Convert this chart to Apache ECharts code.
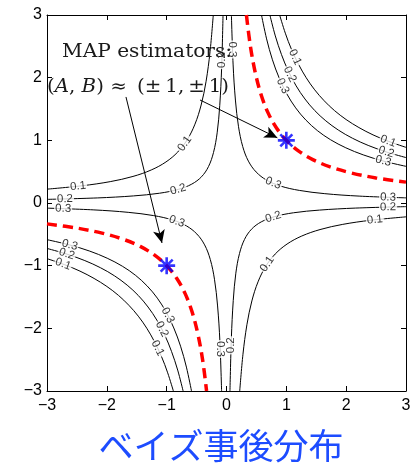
<!DOCTYPE html>
<html>
<head>
<meta charset="utf-8">
<script src="https://cdn.jsdelivr.net/npm/echarts@6/dist/echarts.min.js"></script>
<style>
  html, body { margin: 0; padding: 0; background: #fff; }
  #chart { width: 419px; height: 466px; }
</style>
</head>
<body>
<div id="chart"></div>
<script>
// Axis ticks (A horizontal, B vertical)
const tickValues = [-3, -2, -1, 0, 1, 2, 3];

// Contour branches of the Bayes posterior p(A,B|V), as [A, B] points.
// Level 0.3
const lvl03InnerQ1 = [[0.082,3.0],[0.110,2.217],[0.149,1.643],[0.201,1.217],[0.271,0.901],[0.366,0.668],[0.495,0.495],[0.668,0.366],[0.901,0.271],[1.217,0.201],[1.643,0.149],[2.217,0.110],[3.0,0.082]];
const lvl03InnerQ3 = [[-3.0,-0.082],[-2.217,-0.110],[-1.643,-0.149],[-1.217,-0.201],[-0.901,-0.271],[-0.668,-0.366],[-0.495,-0.495],[-0.366,-0.668],[-0.271,-0.901],[-0.201,-1.217],[-0.149,-1.643],[-0.110,-2.217],[-0.082,-3.0]];
const lvl03OuterQ1 = [[0.585,3.0],[0.670,2.619],[0.768,2.285],[0.881,1.994],[1.009,1.740],[1.156,1.518],[1.325,1.325],[1.518,1.156],[1.740,1.009],[1.994,0.881],[2.285,0.768],[2.619,0.670],[3.0,0.585]];
const lvl03OuterQ3 = [[-3.0,-0.585],[-2.619,-0.670],[-2.285,-0.768],[-1.994,-0.881],[-1.740,-1.009],[-1.518,-1.156],[-1.325,-1.325],[-1.156,-1.518],[-1.009,-1.740],[-0.881,-1.994],[-0.768,-2.285],[-0.670,-2.619],[-0.585,-3.0]];
// Level 0.2
const lvl02OuterQ1 = [[0.725,3.0],[0.816,2.666],[0.919,2.368],[1.034,2.104],[1.164,1.869],[1.311,1.660],[1.475,1.475],[1.660,1.311],[1.869,1.164],[2.104,1.034],[2.368,0.919],[2.666,0.816],[3.0,0.725]];
const lvl02OuterQ3 = [[-3.0,-0.725],[-2.666,-0.816],[-2.368,-0.919],[-2.104,-1.034],[-1.869,-1.164],[-1.660,-1.311],[-1.475,-1.475],[-1.311,-1.660],[-1.164,-1.869],[-1.034,-2.104],[-0.919,-2.368],[-0.816,-2.666],[-0.725,-3.0]];
const lvl02InnerQ2 = [[-3.0,0.058],[-2.160,0.081],[-1.555,0.113],[-1.120,0.156],[-0.807,0.217],[-0.581,0.301],[-0.418,0.418],[-0.301,0.581],[-0.217,0.807],[-0.156,1.120],[-0.113,1.555],[-0.081,2.160],[-0.058,3.0]];
const lvl02InnerQ4 = [[0.058,-3.0],[0.081,-2.160],[0.113,-1.555],[0.156,-1.120],[0.217,-0.807],[0.301,-0.581],[0.418,-0.418],[0.581,-0.301],[0.807,-0.217],[1.120,-0.156],[1.555,-0.113],[2.160,-0.081],[3.0,-0.058]];
// Level 0.1
const lvl01OuterQ1 = [[0.888,3.0],[0.983,2.710],[1.087,2.449],[1.204,2.213],[1.332,1.999],[1.474,1.806],[1.632,1.632],[1.806,1.474],[1.999,1.332],[2.213,1.204],[2.449,1.087],[2.710,0.983],[3.0,0.888]];
const lvl01OuterQ3 = [[-3.0,-0.888],[-2.710,-0.983],[-2.449,-1.087],[-2.213,-1.204],[-1.999,-1.332],[-1.806,-1.474],[-1.632,-1.632],[-1.474,-1.806],[-1.332,-1.999],[-1.204,-2.213],[-1.087,-2.449],[-0.983,-2.710],[-0.888,-3.0]];
const lvl01InnerQ2 = [[-3.0,0.221],[-2.414,0.275],[-1.943,0.341],[-1.563,0.424],[-1.258,0.527],[-1.012,0.655],[-0.814,0.814],[-0.655,1.012],[-0.527,1.258],[-0.424,1.563],[-0.341,1.943],[-0.275,2.414],[-0.221,3.0]];
const lvl01InnerQ4 = [[0.221,-3.0],[0.275,-2.414],[0.341,-1.943],[0.424,-1.563],[0.527,-1.258],[0.655,-1.012],[0.814,-0.814],[1.012,-0.655],[1.258,-0.527],[1.563,-0.424],[1.943,-0.341],[2.414,-0.275],[3.0,-0.221]];

// Ridge of MAP solutions AB = 1
const ridgeQ1 = [[0.333,3.0],[0.400,2.498],[0.481,2.080],[0.577,1.732],[0.693,1.442],[0.833,1.201],[1.0,1.0],[1.201,0.833],[1.442,0.693],[1.732,0.577],[2.080,0.481],[2.498,0.400],[3.0,0.333]];
const ridgeQ3 = [[-3.0,-0.333],[-2.498,-0.400],[-2.080,-0.481],[-1.732,-0.577],[-1.442,-0.693],[-1.201,-0.833],[-1.0,-1.0],[-0.833,-1.201],[-0.693,-1.442],[-0.577,-1.732],[-0.481,-2.080],[-0.400,-2.498],[-0.333,-3.0]];

// MAP estimators
const mapPoints = [[1, 1], [-1, -1]];

// Contour labels: [A, B, level]
const contourLabels = [
  [-0.70, 0.947, '0.1'], [-2.48, 0.267, '0.1'], [-0.81, 0.216, '0.2'], [-2.70, 0.065, '0.2'],
  [-2.73, -0.090, '0.3'], [-0.83, -0.295, '0.3'], [-2.62, -0.670, '0.3'], [-2.67, -0.815, '0.2'],
  [-2.73, -0.975, '0.1'], [-0.98, -1.791, '0.3'], [-1.08, -2.014, '0.2'], [-1.15, -2.316, '0.1'],
  [-0.105, -2.33, '0.3'], [0.077, -2.27, '0.2'], [0.78, -0.224, '0.2'], [2.48, -0.267, '0.1'],
  [0.68, -0.975, '0.1'], [2.70, 0.091, '0.3'], [2.70, -0.065, '0.2'], [0.78, 0.314, '0.3'],
  [2.70, 0.986, '0.1'], [2.67, 0.815, '0.2'], [2.62, 0.670, '0.3'], [1.145, 2.326, '0.1'],
  [1.06, 2.052, '0.2'], [0.94, 1.867, '0.3'], [0.10, 2.45, '0.3'], [-0.077, 2.28, '0.2']
];
const contourLabelAngles = [
  55, 6, 16, 1,
  -2, -20, -15, -18,
  -20, -62, -63, -63,
  -90, 90, 17, 6,
  56, -2, 1, -23,
  -21, -18, -15, -65,
  -64, -64, -90, 90
];

// Annotation arrows: [from, to] in (A, B)
const arrowFromTo = [
  [[-1.68, 1.692], [-1.078, -0.638]],
  [[-0.443, 1.644], [0.85, 1.04]]
];

const blackBranches = [
  lvl03InnerQ1, lvl03InnerQ3, lvl03OuterQ1, lvl03OuterQ3,
  lvl02OuterQ1, lvl02OuterQ3, lvl02InnerQ2, lvl02InnerQ4,
  lvl01OuterQ1, lvl01OuterQ3, lvl01InnerQ2, lvl01InnerQ4
];

const minus = v => String(v).replace('-', '\u2212');
const AXIS_FONT = '"Liberation Sans", Arial, sans-serif';
const SERIF = '"DejaVu Serif", serif';

const chart = echarts.init(document.getElementById('chart'), null, { renderer: 'canvas' });

const baseAxis = {
  type: 'value', min: -3, max: 3, interval: 1,
  axisLine: { show: true, onZero: false, lineStyle: { color: '#000', width: 1 } },
  axisTick: { show: true, inside: true, length: 5, lineStyle: { color: '#000', width: 1 } },
  splitLine: { show: false }
};

const series = [];
blackBranches.forEach(d => series.push({
  type: 'line', data: d, showSymbol: false, smooth: 0.35, silent: true, z: 2,
  lineStyle: { color: '#000', width: 1 }
}));
[ridgeQ1, ridgeQ3].forEach(d => series.push({
  type: 'line', data: d, showSymbol: false, smooth: 0.35, silent: true, z: 4,
  lineStyle: { color: '#ff0000', width: 3.5, type: [10, 6] }
}));
series.push({
  type: 'scatter', silent: true, z: 3, symbolSize: 1,
  itemStyle: { color: 'rgba(0,0,0,0)' },
  data: contourLabels.map((d, i) => ({
    value: [d[0], d[1]], name: d[2], label: { rotate: contourLabelAngles[i] }
  })),
  label: {
    show: true, position: 'inside', formatter: p => p.name,
    fontSize: 11.5, fontFamily: AXIS_FONT, color: '#000',
    backgroundColor: '#fff', padding: [0, 1], lineHeight: 10
  }
});
series.push({
  type: 'scatter', silent: true, z: 6, data: mapPoints,
  symbol: 'path://M10,0L10,20M0,10L20,10M2.93,2.93L17.07,17.07M17.07,2.93L2.93,17.07',
  symbolSize: 17,
  itemStyle: { color: 'rgba(0,0,0,0)', borderColor: '#0000ff', borderWidth: 2.6 }
});
series.push({
  type: 'line', data: [], silent: true, z: 5,
  markLine: {
    silent: true, animation: false,
    symbol: ['none', 'arrow'], symbolSize: [9, 13],
    lineStyle: { color: '#000', width: 1, type: 'solid' },
    label: { show: false },
    data: arrowFromTo.map(a => [{ coord: a[0] }, { coord: a[1] }])
  }
});

chart.setOption({
  animation: false,
  backgroundColor: '#fff',
  grid: { left: 47, right: 13, top: 15, bottom: 75, show: false },
  xAxis: [
    Object.assign({}, baseAxis, {
      position: 'bottom',
      axisLabel: { color: '#000', fontSize: 16, fontFamily: AXIS_FONT, margin: 7, formatter: minus }
    }),
    Object.assign({}, baseAxis, { position: 'top', axisLabel: { show: false } })
  ],
  yAxis: [
    Object.assign({}, baseAxis, {
      position: 'left',
      axisLabel: { color: '#000', fontSize: 16, fontFamily: AXIS_FONT, margin: 5, formatter: minus }
    }),
    Object.assign({}, baseAxis, { position: 'right', axisLabel: { show: false } })
  ],
  series: series,
  graphic: [
    {
      type: 'text', x: 62, y: 52, z: 10, scaleX: 1.12,
      style: {
        text: 'MAP estimators:', font: '18px ' + SERIF, fill: '#1a1a1a',
        align: 'left', verticalAlign: 'middle'
      }
    },
    {
      type: 'text', x: 47, y: 87, z: 10, scaleX: 1.1,
      style: {
        text: '{t|(}{i|A}{t|, }{i|B}{t|) ≈ \u2009(±\u20091,\u2009±\u20091)}',
        align: 'left', verticalAlign: 'middle',
        rich: {
          t: { font: '18px ' + SERIF, fill: '#1a1a1a' },
          i: { font: 'italic 18px ' + SERIF, fill: '#1a1a1a' }
        }
      }
    },
    {
      type: 'text', x: 221, y: 446, z: 10,
      style: {
        text: 'ベイズ事後分布', font: '35px "Noto Sans CJK JP", sans-serif', fill: '#1d4cff',
        align: 'center', verticalAlign: 'middle'
      }
    }
  ]
});
</script>
</body>
</html>
